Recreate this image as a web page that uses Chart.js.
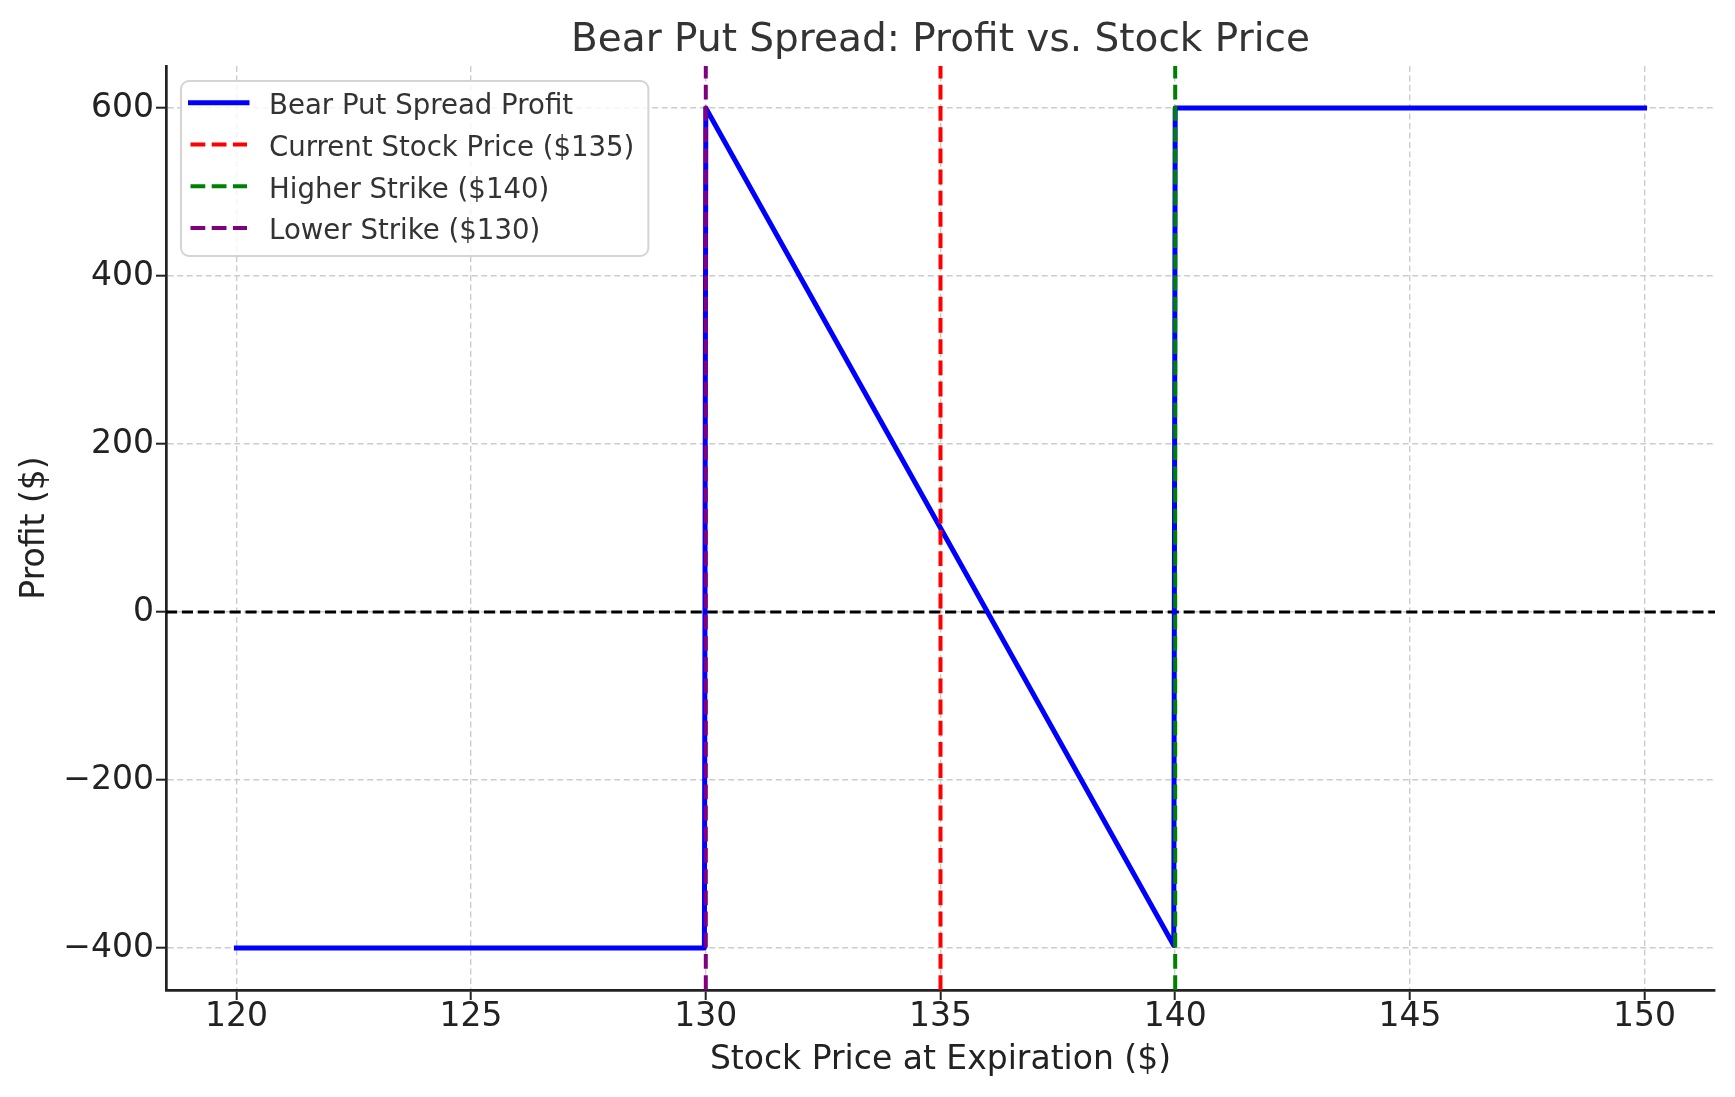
<!DOCTYPE html>
<html>
<head>
<meta charset="utf-8">
<title>Bear Put Spread: Profit vs. Stock Price</title>
<script src="https://cdn.jsdelivr.net/npm/chart.js@4.4.1/dist/chart.umd.min.js"></script>
<style>
  html, body { margin: 0; padding: 0; background: #fff; }
</style>
</head>
<body>
<canvas id="profitChart" width="1735" height="1097"></canvas>
<script>
// Payoff curve
const stockPrice = [120, 129.97, 130, 139.97, 140, 150];
const profit = [-400, -400, 600, -397, 600, 600];

// Reference lines
const currentPrice = 135;
const higherStrike = 140;
const lowerStrike = 130;

const xTicks = [120, 125, 130, 135, 140, 145, 150];
const yTicks = [-400, -200, 0, 200, 400, 600];
const xRange = [118.5, 151.5];
const yRange = [-450, 650];

const FONT = '"DejaVu Sans", "Liberation Sans", sans-serif';
Chart.defaults.font.family = FONT;

const vline = x => [{ x: x, y: yRange[0] }, { x: x, y: yRange[1] }];

// matplotlib style legend box, drawn inside the plot area
const legendBox = {
  id: 'legendBox',
  afterDraw(chart) {
    const { ctx, chartArea } = chart;
    const items = chart.data.datasets.filter(d => d.label);
    ctx.save();
    ctx.font = '27.6px ' + FONT;
    const textW = Math.max(...items.map(d => ctx.measureText(d.label).width));
    const x0 = chartArea.left + 15, y0 = chartArea.top + 15;
    const w = 88 + textW + 14, h = 175;
    ctx.beginPath();
    ctx.roundRect(x0, y0, w, h, 8);
    ctx.fillStyle = 'rgba(255,255,255,0.8)';
    ctx.fill();
    ctx.strokeStyle = '#d4d4d4';
    ctx.lineWidth = 2;
    ctx.stroke();
    items.forEach((d, i) => {
      const base = y0 + 33.3 + i * 41.7;
      ctx.beginPath();
      ctx.setLineDash(d.borderDash || []);
      ctx.lineCap = d.borderCapStyle || 'butt';
      ctx.lineWidth = d.borderWidth;
      ctx.strokeStyle = d.borderColor;
      ctx.moveTo(x0 + 9.5, base - 11.5);
      ctx.lineTo(x0 + 66, base - 11.5);
      ctx.stroke();
      ctx.setLineDash([]);
      ctx.fillStyle = '#333';
      ctx.textAlign = 'left';
      ctx.textBaseline = 'alphabetic';
      ctx.fillText(d.label, x0 + 88, base);
    });
    ctx.restore();
  }
};

new Chart(document.getElementById('profitChart'), {
  type: 'line',
  data: {
    datasets: [
      {
        label: 'Bear Put Spread Profit',
        data: stockPrice.map((x, i) => ({ x: x, y: profit[i] })),
        borderColor: '#0000ff',
        borderWidth: 5,
        borderCapStyle: 'square',
        borderJoinStyle: 'round',
        order: 4
      },
      {
        label: 'Current Stock Price ($' + currentPrice + ')',
        data: vline(currentPrice),
        borderColor: '#ff0000',
        borderWidth: 4,
        borderDash: [14.8, 6.4],
        order: 3
      },
      {
        label: 'Higher Strike ($' + higherStrike + ')',
        data: vline(higherStrike),
        borderColor: '#008000',
        borderWidth: 4,
        borderDash: [14.8, 6.4],
        order: 2
      },
      {
        label: 'Lower Strike ($' + lowerStrike + ')',
        data: vline(lowerStrike),
        borderColor: '#800080',
        borderWidth: 4,
        borderDash: [14.8, 6.4],
        order: 1
      },
      {
        label: '',
        data: [{ x: xRange[0], y: 0 }, { x: xRange[1], y: 0 }],
        borderColor: '#000000',
        borderWidth: 3,
        borderDash: [11.1, 4.8],
        order: 5
      }
    ]
  },
  options: {
    responsive: false,
    animation: false,
    layout: { padding: { left: 0, right: 20, top: 0, bottom: 0 } },
    elements: { point: { radius: 0, hoverRadius: 0 }, line: { tension: 0, fill: false } },
    plugins: {
      legend: { display: false },
      tooltip: { enabled: false },
      title: {
        display: true,
        fullSize: false,
        text: 'Bear Put Spread: Profit vs. Stock Price',
        color: '#333',
        font: { size: 39, weight: 'normal' },
        padding: { top: 17, bottom: 2.2 }
      }
    },
    scales: {
      x: {
        type: 'linear',
        min: xRange[0],
        max: xRange[1],
        afterBuildTicks: s => { s.ticks = xTicks.map(v => ({ value: v })); },
        afterFit: s => { s.height = 107; },
        ticks: { color: '#222', font: { size: 33 }, padding: -2, maxRotation: 0, autoSkip: false },
        grid: { color: '#cccccc', lineWidth: 1.4, tickColor: '#222', tickWidth: 2, tickLength: 10, tickBorderDash: [], z: -1 },
        border: { display: true, color: '#222', width: 2.7, dash: [6, 3.5] },
        title: { display: true, text: 'Stock Price at Expiration ($)', color: '#222', font: { size: 33 }, padding: { top: 0, bottom: 17 } }
      },
      y: {
        type: 'linear',
        min: yRange[0],
        max: yRange[1],
        afterBuildTicks: s => { s.ticks = yTicks.map(v => ({ value: v })); },
        afterFit: s => { s.width = 166; },
        ticks: {
          color: '#222',
          font: { size: 33 },
          padding: 2,
          callback: v => v < 0 ? '\u2212' + Math.abs(v) : String(v)
        },
        grid: { color: '#cccccc', lineWidth: 1.4, tickColor: '#222', tickWidth: 2, tickLength: 10, tickBorderDash: [], z: -1 },
        border: { display: true, color: '#222', width: 2.7, dash: [6, 3.5] },
        title: { display: true, text: 'Profit ($)', color: '#222', font: { size: 33 }, padding: { top: 16, bottom: 0 } }
      }
    }
  },
  plugins: [legendBox]
});
</script>
</body>
</html>
